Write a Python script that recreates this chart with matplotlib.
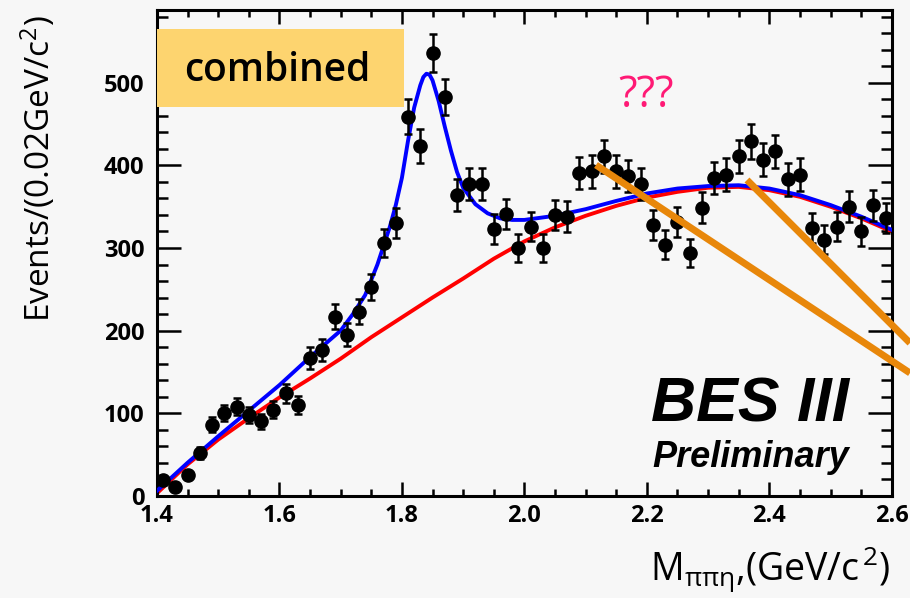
import numpy as np
import matplotlib.pyplot as plt
from matplotlib.lines import Line2D
from matplotlib.patches import Rectangle
from matplotlib.ticker import MultipleLocator

plt.rcParams['font.family'] = ['Open Sans', 'DejaVu Sans']
plt.rcParams['mathtext.fontset'] = 'custom'
plt.rcParams['mathtext.rm'] = 'Open Sans'
plt.rcParams['mathtext.it'] = 'Open Sans:italic'

# data: M(pi pi eta) histogram, 0.02 GeV bins
mass = np.round(np.arange(1.41, 2.6, 0.02), 2)
events = [19, 11, 25, 52, 86, 100, 108, 98, 90, 104,
          124, 110, 167, 177, 217, 195, 223, 253, 306, 330,
          459, 423, 536, 483, 364, 377, 377, 323, 341, 300,
          326, 300, 340, 338, 391, 393, 411, 393, 387, 377,
          328, 304, 332, 294, 349, 385, 389, 411, 429, 407,
          417, 383, 389, 324, 310, 326, 350, 320, 352, 336]

# background (red)
bkg_x = [1.40, 1.45, 1.50, 1.55, 1.60, 1.65, 1.70, 1.75, 1.80, 1.85, 1.90, 1.95,
         2.00, 2.05, 2.10, 2.15, 2.20, 2.25, 2.30, 2.35, 2.40, 2.45, 2.50, 2.55, 2.60]
bkg_y = [3, 38, 68, 94, 119, 142, 166, 192, 216, 240, 263, 287,
         308, 325, 339, 351, 361, 368, 373, 374, 370, 362, 350, 336, 320]

# total fit (blue)
fit_x = [1.40, 1.45, 1.50, 1.55, 1.60, 1.65, 1.70, 1.72, 1.74, 1.76, 1.78, 1.79,
         1.80, 1.81, 1.82, 1.83, 1.835, 1.84, 1.845, 1.85, 1.86, 1.87, 1.88, 1.89,
         1.90, 1.92, 1.94, 1.96, 1.98, 2.00, 2.05, 2.10, 2.15, 2.20, 2.25, 2.30,
         2.35, 2.40, 2.45, 2.50, 2.55, 2.60]
fit_y = [6, 40, 72, 103, 134, 168, 200, 220, 243, 280, 325, 352,
         385, 430, 470, 497, 507, 511, 510, 503, 478, 447, 418, 392,
         373, 353, 342, 336, 334, 334, 339, 347, 357, 366, 372, 375,
         376, 372, 364, 352, 338, 322]

bg = '#f7f7f7'
fig = plt.figure(figsize=(9.1, 5.98), dpi=100, facecolor=bg)
ax = fig.add_axes([0.1725, 0.171, 0.8075, 0.812])
ax.set_facecolor(bg)

ax.plot(bkg_x, bkg_y, color='#ff0000', lw=2.8, zorder=2)
ax.plot(fit_x, fit_y, color='#0000ff', lw=2.8, zorder=3)
ax.errorbar(mass, events, yerr=np.sqrt(events), fmt='o', color='black',
            ms=9.5, elinewidth=1.8, capsize=3.2, capthick=1.8, zorder=4)

ax.set_xlim(1.4, 2.6)
ax.set_ylim(0, 588)
ax.xaxis.set_minor_locator(MultipleLocator(0.05))
ax.yaxis.set_major_locator(MultipleLocator(100))
ax.yaxis.set_minor_locator(MultipleLocator(20))
ax.set_xticks([1.4, 1.6, 1.8, 2.0, 2.2, 2.4, 2.6])
ax.set_xticklabels(['1.4', '1.6', '1.8', '2.0', '2.2', '2.4', '2.6'],
                   fontsize=17, fontweight='bold')
ax.set_yticks([0, 100, 200, 300, 400, 500])
ax.set_yticklabels(['0', '100', '200', '300', '400', '500'],
                   fontsize=17, fontweight='bold')

for s in ax.spines.values():
    s.set_linewidth(2.2)
ax.tick_params(axis='both', which='both', direction='in', top=True, right=True, width=1.8)
ax.tick_params(axis='x', which='major', length=10, pad=6)
ax.tick_params(axis='x', which='minor', length=5)
ax.tick_params(axis='y', which='major', length=17, pad=9)
ax.tick_params(axis='y', which='minor', length=8)

ax.set_ylabel('Events/(0.02GeV/c$^{2}$)', fontsize=24, loc='top')
ax.yaxis.set_label_coords(-0.135, 0.99)
ax.set_xlabel(r'M$_{\mathrm{ππη}}$,(GeV/c$^{\,2}$)', fontsize=27, loc='right')
ax.xaxis.set_label_coords(0.998, -0.1)

# labels
ax.add_patch(Rectangle((0.0, 0.801), 0.336, 0.161, transform=ax.transAxes,
                       facecolor='#fdd46f', edgecolor='none', zorder=5, clip_on=False))
ax.text(0.164, 0.875, 'combined', transform=ax.transAxes, fontsize=28, fontweight='semibold',
        color='black', va='center', ha='center', zorder=6)
ax.text(0.665, 0.801, '???', transform=ax.transAxes, fontsize=31, color='#ff1a75',
        va='baseline', ha='center')
ax.text(0.942, 0.152, 'BES III', transform=ax.transAxes, fontsize=45, fontweight='bold',
        fontstyle='italic', family='Liberation Sans', ha='right', va='baseline')
ax.text(0.942, 0.060, 'Preliminary', transform=ax.transAxes, fontsize=26, fontweight='bold',
        fontstyle='italic', family='Liberation Sans', ha='right', va='baseline')

# orange pointer lines
orange = '#e8870a'
fig.add_artist(Line2D([596 / 910, 1.0], [1 - 165 / 598, 1 - 373 / 598],
                      color=orange, lw=5, solid_capstyle='butt'))
fig.add_artist(Line2D([747 / 910, 1.0], [1 - 180 / 598, 1 - 343 / 598],
                      color=orange, lw=5, solid_capstyle='butt'))

fig.savefig('out.png', dpi=100, facecolor=bg)
